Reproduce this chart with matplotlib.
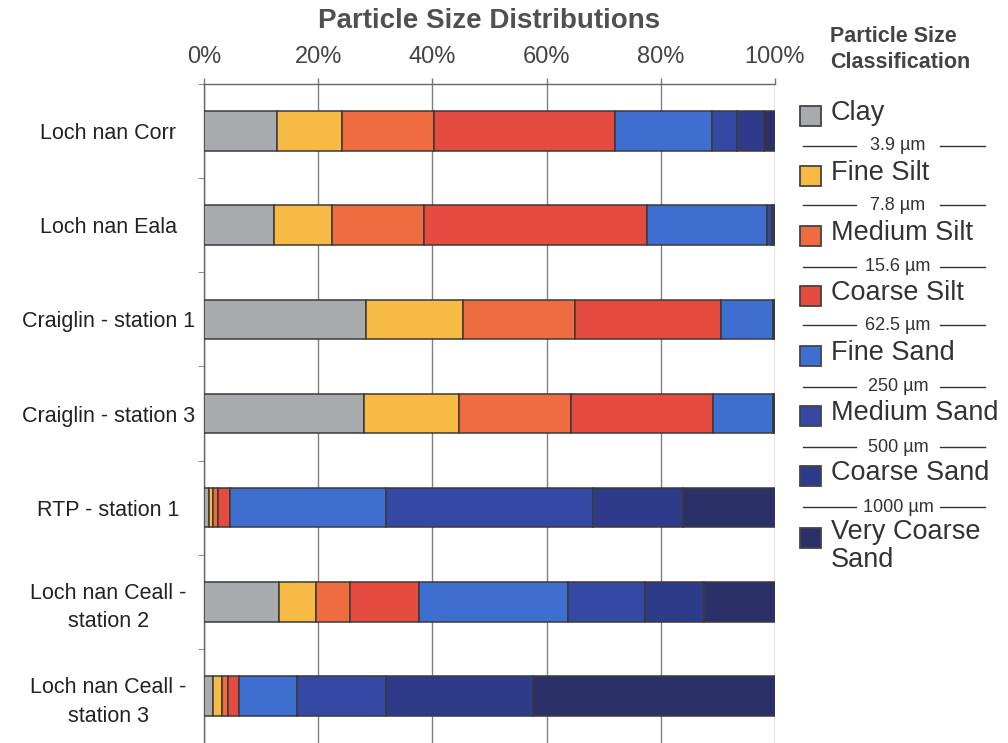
import numpy as np
import matplotlib
matplotlib.use("Agg")
import matplotlib.pyplot as plt
from matplotlib.patches import Rectangle
from matplotlib.lines import Line2D

plt.rcParams['font.family'] = ['Liberation Sans', 'DejaVu Sans']

sites = ["Loch nan Corr", "Loch nan Eala", "Craiglin - station 1", "Craiglin - station 3",
         "RTP - station 1", "Loch nan Ceall -\nstation 2", "Loch nan Ceall -\nstation 3"]

classes = ["Clay", "Fine Silt", "Medium Silt", "Coarse Silt",
           "Fine Sand", "Medium Sand", "Coarse Sand", "Very Coarse\nSand"]
limits = ["3.9 µm", "7.8 µm", "15.6 µm", "62.5 µm", "250 µm", "500 µm", "1000 µm"]
colors = ["#a8aaad", "#f6ba45", "#ef6b40", "#e54b3e", "#3d6ed0", "#3448a4", "#2e3a8a", "#2b3068"]

# percentage in each class, per site
clay = [12.8, 12.3, 28.3, 28.1, 0.9, 13.1, 1.6]
fine_silt = [11.3, 10.2, 17.0, 16.6, 0.7, 6.5, 1.5]
medium_silt = [16.2, 16.0, 19.7, 19.6, 0.9, 5.9, 1.1]
coarse_silt = [31.6, 39.1, 25.6, 24.9, 2.1, 12.1, 2.0]
fine_sand = [17.1, 21.0, 9.1, 10.5, 27.2, 26.1, 10.1]
medium_sand = [4.3, 0.9, 0.2, 0.2, 36.4, 13.5, 15.5]
coarse_sand = [4.8, 0.3, 0.05, 0.05, 15.7, 10.3, 25.9]
very_coarse_sand = [1.9, 0.2, 0.05, 0.05, 16.1, 12.5, 42.3]

series = [clay, fine_silt, medium_silt, coarse_silt,
          fine_sand, medium_sand, coarse_sand, very_coarse_sand]

W, H = 1008, 743
fig = plt.figure(figsize=(W / 100, H / 100), dpi=100)
ax = fig.add_axes([204 / W, 0.0, (775 - 204) / W, 1 - 84 / H])

txt = "#333333"
y = np.arange(len(sites))
left = np.zeros(len(sites))
for vals, c in zip(series, colors):
    v = np.array(vals)
    ax.barh(y, v, left=left, height=0.42, color=c, edgecolor="#3a3a3a", linewidth=1.1, zorder=3)
    left += v

ax.set_xlim(0, 100)
ax.set_ylim(len(sites) - 0.5, -0.5)
ax.xaxis.tick_top()
ax.set_xticks([0, 20, 40, 60, 80, 100])
ax.set_xticklabels([f"{t}%" for t in range(0, 101, 20)], fontsize=17, color="#444444")
ax.tick_params(axis="x", length=4.5, width=1, color="#777777", pad=7)
ax.set_yticks(y)
ax.set_yticklabels(sites, fontsize=15.5, color="#222222", ha="center", linespacing=1.45)
ax.tick_params(axis="y", length=0, pad=69)
ax.set_yticks(np.arange(len(sites) + 1) - 0.5, minor=True)
ax.tick_params(axis="y", which="minor", length=4, color="#777777")
ax.grid(axis="x", color="#808080", linewidth=1.0, zorder=0)
for s in ["right", "bottom"]:
    ax.spines[s].set_visible(False)
for s in ["top", "left"]:
    ax.spines[s].set_color("#666666")
    ax.spines[s].set_linewidth(1.0)

fig.text(489 / W, 1 - 21 / H, "Particle Size Distributions", ha="center", va="center",
         fontsize=20, fontweight="bold", color="#505050")


# legend on the right, pixel positions measured from the top
def fy(py):
    return 1 - py / H


fig.text(830 / W, fy(36), "Particle Size", fontsize=15.5, fontweight="bold", color="#444444", va="center")
fig.text(830 / W, fy(62), "Classification", fontsize=15.5, fontweight="bold", color="#444444", va="center")

item_y = [113, 173, 233, 293, 353, 413, 473, 535]
for name, c, py in zip(classes, colors, item_y):
    fig.add_artist(Rectangle((800 / W, fy(py + 13)), 21 / W, 20 / H, transform=fig.transFigure,
                             facecolor=c, edgecolor="#444444", linewidth=1.3))
    if "\n" in name:
        fig.text(831 / W, fy(py - 16), name, fontsize=19.5, color=txt, va="top", linespacing=1.12)
    else:
        fig.text(831 / W, fy(py), name, fontsize=19.5, color=txt, va="center")

for lab, py in zip(limits, [146, 205, 267, 325, 387, 447, 507]):
    fig.text(898 / W, fy(py), lab, fontsize=13, color=txt, ha="center", va="center")
    fig.add_artist(Line2D([803 / W, 856 / W], [fy(py), fy(py)], transform=fig.transFigure,
                          color="#333333", linewidth=1.0))
    fig.add_artist(Line2D([940 / W, 985 / W], [fy(py), fy(py)], transform=fig.transFigure,
                          color="#333333", linewidth=1.0))

fig.savefig("out.png", dpi=100)
